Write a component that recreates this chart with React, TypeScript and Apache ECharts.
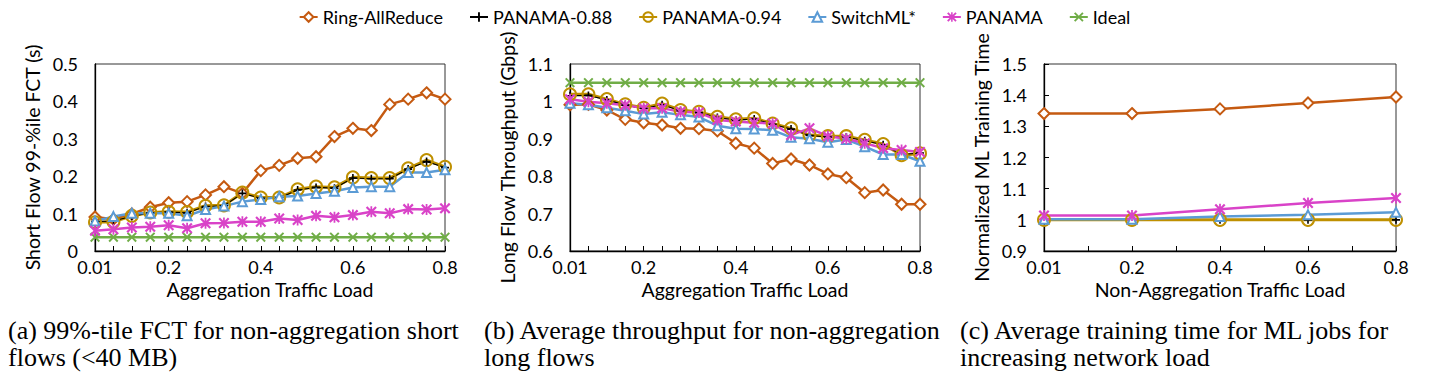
import React, { useEffect, useRef } from 'react';
import * as echarts from 'echarts';

// ---------- data ----------
const loadsAB = ['0.01', '0.05', '0.1', '0.15', '0.2', '0.24', '0.28', '0.32', '0.36', '0.4', '0.44', '0.48', '0.52', '0.56', '0.6', '0.64', '0.68', '0.72', '0.76', '0.8'];
const labeledAB = [0, 4, 9, 14, 19];
const loadsC = ['0.01', '0.2', '0.4', '0.6', '0.8'];

const seriesNames = ['Ring-AllReduce', 'PANAMA-0.88', 'PANAMA-0.94', 'SwitchML*', 'PANAMA', 'Ideal'];

// (a) Short flow 99-%ile FCT (s)
const ringA = [0.091, 0.085, 0.099, 0.117, 0.129, 0.132, 0.150, 0.172, 0.154, 0.215, 0.229, 0.248, 0.252, 0.306, 0.328, 0.322, 0.392, 0.406, 0.423, 0.406];
const p88A = [0.079, 0.080, 0.093, 0.102, 0.104, 0.102, 0.119, 0.121, 0.154, 0.141, 0.142, 0.163, 0.170, 0.168, 0.195, 0.193, 0.193, 0.219, 0.239, 0.223];
const p94A = [0.077, 0.078, 0.094, 0.103, 0.105, 0.104, 0.121, 0.122, 0.156, 0.143, 0.143, 0.165, 0.172, 0.170, 0.197, 0.195, 0.195, 0.221, 0.243, 0.225];
const swA = [0.080, 0.092, 0.101, 0.101, 0.101, 0.094, 0.111, 0.120, 0.132, 0.138, 0.145, 0.147, 0.154, 0.160, 0.170, 0.172, 0.172, 0.210, 0.210, 0.217];
const panA = [0.054, 0.058, 0.063, 0.065, 0.069, 0.061, 0.074, 0.075, 0.078, 0.078, 0.087, 0.083, 0.094, 0.090, 0.096, 0.105, 0.101, 0.112, 0.111, 0.114];
const idealA = [0.037, 0.037, 0.037, 0.037, 0.037, 0.037, 0.037, 0.037, 0.037, 0.037, 0.037, 0.037, 0.037, 0.037, 0.037, 0.037, 0.037, 0.037, 0.037, 0.037];

// (b) Long flow throughput (Gbps)
const ringB = [0.991, 0.992, 0.977, 0.952, 0.943, 0.937, 0.928, 0.927, 0.921, 0.888, 0.875, 0.834, 0.846, 0.830, 0.806, 0.796, 0.756, 0.763, 0.725, 0.725];
const p88B = [1.015, 1.016, 1.004, 0.990, 0.981, 0.991, 0.975, 0.970, 0.957, 0.950, 0.953, 0.939, 0.926, 0.909, 0.905, 0.905, 0.895, 0.884, 0.858, 0.862];
const p94B = [1.019, 1.019, 1.006, 0.992, 0.983, 0.994, 0.977, 0.972, 0.959, 0.952, 0.955, 0.941, 0.928, 0.910, 0.907, 0.907, 0.897, 0.886, 0.856, 0.861];
const swB = [0.995, 0.991, 0.983, 0.975, 0.966, 0.971, 0.964, 0.958, 0.935, 0.927, 0.926, 0.923, 0.904, 0.900, 0.891, 0.898, 0.879, 0.858, 0.858, 0.840];
const panB = [1.006, 0.999, 0.995, 0.990, 0.982, 0.982, 0.972, 0.970, 0.950, 0.946, 0.943, 0.941, 0.910, 0.928, 0.907, 0.900, 0.888, 0.875, 0.870, 0.865];
const idealB = [1.05, 1.05, 1.05, 1.05, 1.05, 1.05, 1.05, 1.05, 1.05, 1.05, 1.05, 1.05, 1.05, 1.05, 1.05, 1.05, 1.05, 1.05, 1.05, 1.05];

// (c) Normalized ML training time
const ringC = [1.341, 1.341, 1.356, 1.375, 1.394];
const p88C = [1.0, 1.0, 1.0, 1.0, 1.0];
const p94C = [1.0, 1.0, 1.0, 1.0, 1.0];
const swC = [1.002, 1.002, 1.011, 1.016, 1.024];
const panC = [1.014, 1.014, 1.034, 1.054, 1.070];

const captionA = ['(a) 99%-tile FCT for non-aggregation short', 'flows (<40 MB)'];
const captionB = ['(b) Average throughput for non-aggregation', 'long flows'];
const captionC = ['(c) Average training time for ML jobs for', 'increasing network load'];

// ---------- styles ----------
const SANS = 'Lato';
const SERIF = 'Liberation Serif';
const plusPath = 'path://M4,0H6V4H10V6H6V10H4V6H0V4H4Z';
const xPath = 'path://M1.4,0L5,3.6L8.6,0L10,1.4L6.4,5L10,8.6L8.6,10L5,6.4L1.4,10L0,8.6L3.6,5L0,1.4Z';
const starPath = 'path://M1.4,0L5,3.6L8.6,0L10,1.4L6.4,5L10,8.6L8.6,10L5,6.4L1.4,10L0,8.6L3.6,5L0,1.4Z M4.2,0H5.8V10H4.2Z';

const look: Record<string, any> = {
  'Ring-AllReduce': { color: '#C55A11', symbol: 'emptyDiamond', size: 11, width: 2.5 },
  'PANAMA-0.88': { color: '#000000', symbol: plusPath, size: 8, width: 1.1 },
  'PANAMA-0.94': { color: '#BF9000', symbol: 'circle', size: 12, width: 3, hollow: true },
  'SwitchML*': { color: '#5B9BD5', symbol: 'emptyTriangle', size: 9, width: 2.5 },
  'PANAMA': { color: '#D943C8', symbol: starPath, size: 11, width: 2.5 },
  'Ideal': { color: '#70AD47', symbol: xPath, size: 10, width: 2.5 },
};

function mk(name: string, data: any[], idx: number) {
  const l = look[name];
  const itemStyle = l.hollow
    ? { color: 'rgba(255,255,255,0)', borderColor: l.color, borderWidth: 2 }
    : { color: l.color, borderColor: l.color, borderWidth: l.symbol.startsWith('empty') ? 1.8 : 0 };
  return {
    name,
    type: 'line',
    xAxisIndex: idx,
    yAxisIndex: idx,
    data,
    symbol: l.symbol,
    symbolSize: l.size,
    showAllSymbol: true,
    lineStyle: { color: l.color, width: l.width },
    itemStyle,
    emphasis: { disabled: true },
  };
}

const tickFont = { color: '#000', fontSize: 18, fontFamily: SANS };
const nameFont = { color: '#000', fontSize: 19.5, fontFamily: SANS };
const axisLine = { lineStyle: { color: '#000', width: 1.3 } };
const axisTick = { inside: true, length: 5, lineStyle: { color: '#000', width: 1 } };

function catX(gridIndex: number) {
  return {
    type: 'category',
    gridIndex,
    data: loadsAB,
    boundaryGap: false,
    axisLine,
    axisTick: { ...axisTick, interval: 0 },
    axisLabel: { ...tickFont, margin: 7, interval: (i: number) => labeledAB.includes(i) },
    splitLine: { show: false },
    name: 'Aggregation Traffic Load',
    nameLocation: 'middle',
    nameGap: 28,
    nameTextStyle: nameFont,
  };
}

function valY(gridIndex: number, min: number, max: number, name: string) {
  return {
    type: 'value',
    gridIndex,
    min,
    max,
    interval: 0.1,
    axisLine: { show: true, ...axisLine },
    axisTick,
    axisLabel: { ...tickFont, margin: 17 },
    splitLine: { show: false },
    name,
    nameLocation: 'middle',
    nameGap: 53,
    nameTextStyle: nameFont,
  };
}

function captionTexts(left: number, lines: string[]) {
  return lines.map((t, i) => ({
    type: 'text',
    x: left,
    y: 330 + i * 27,
    style: { text: t, fontSize: 26, fontFamily: SERIF, fill: '#000', align: 'left', verticalAlign: 'middle' },
  }));
}

export default function App() {
  const ref = useRef<HTMLDivElement>(null);
  useEffect(() => {
    const chart = echarts.init(ref.current!, null, { renderer: 'svg' });
    const option: any = {
      animation: false,
      backgroundColor: '#fff',
      legend: {
        data: seriesNames,
        top: 3,
        left: 'center',
        itemWidth: 18,
        itemHeight: 12,
        itemGap: 26,
        textStyle: { color: '#000', fontSize: 18, fontFamily: SANS },
      },
      grid: [
        { left: 95, top: 64, width: 350, height: 187, show: true, borderColor: '#333', borderWidth: 1 },
        { left: 570, top: 64, width: 350, height: 187, show: true, borderColor: '#333', borderWidth: 1 },
        { left: 1044, top: 64, width: 352, height: 187, show: true, borderColor: '#333', borderWidth: 1 },
      ],
      xAxis: [
        catX(0),
        catX(1),
        {
          type: 'value',
          gridIndex: 2,
          min: 0,
          max: 4,
          interval: 0.5,
          axisLine,
          axisTick,
          axisLabel: { ...tickFont, margin: 7, formatter: (v: number) => (Number.isInteger(v) ? loadsC[v] : '') },
          splitLine: { show: false },
          name: 'Non-Aggregation Traffic Load',
          nameLocation: 'middle',
          nameGap: 28,
          nameTextStyle: nameFont,
        },
      ],
      yAxis: [
        valY(0, 0, 0.5, 'Short Flow 99-%ile FCT (s)'),
        valY(1, 0.6, 1.1, 'Long Flow Throughput (Gbps)'),
        valY(2, 0.9, 1.5, 'Normalized ML Training Time'),
      ],
      series: [
        mk('Ideal', idealA, 0),
        mk('Ring-AllReduce', ringA, 0),
        mk('PANAMA-0.94', p94A, 0),
        mk('PANAMA-0.88', p88A, 0),
        mk('SwitchML*', swA, 0),
        mk('PANAMA', panA, 0),

        mk('Ideal', idealB, 1),
        mk('Ring-AllReduce', ringB, 1),
        mk('PANAMA-0.94', p94B, 1),
        mk('PANAMA-0.88', p88B, 1),
        mk('SwitchML*', swB, 1),
        mk('PANAMA', panB, 1),

        mk('Ring-AllReduce', ringC.map((v, i) => [i, v]), 2),
        mk('PANAMA-0.88', p88C.map((v, i) => [i, v]), 2),
        mk('PANAMA-0.94', p94C.map((v, i) => [i, v]), 2),
        mk('SwitchML*', swC.map((v, i) => [i, v]), 2),
        mk('PANAMA', panC.map((v, i) => [i, v]), 2),
      ],
      graphic: [...captionTexts(8, captionA), ...captionTexts(484, captionB), ...captionTexts(960, captionC)],
    };
    chart.setOption(option);
    return () => chart.dispose();
  }, []);
  return (
    <div
      ref={ref}
      style={{ position: 'absolute', left: 0, top: 0, width: 1429, height: 376, background: '#fff' }}
    />
  );
}
